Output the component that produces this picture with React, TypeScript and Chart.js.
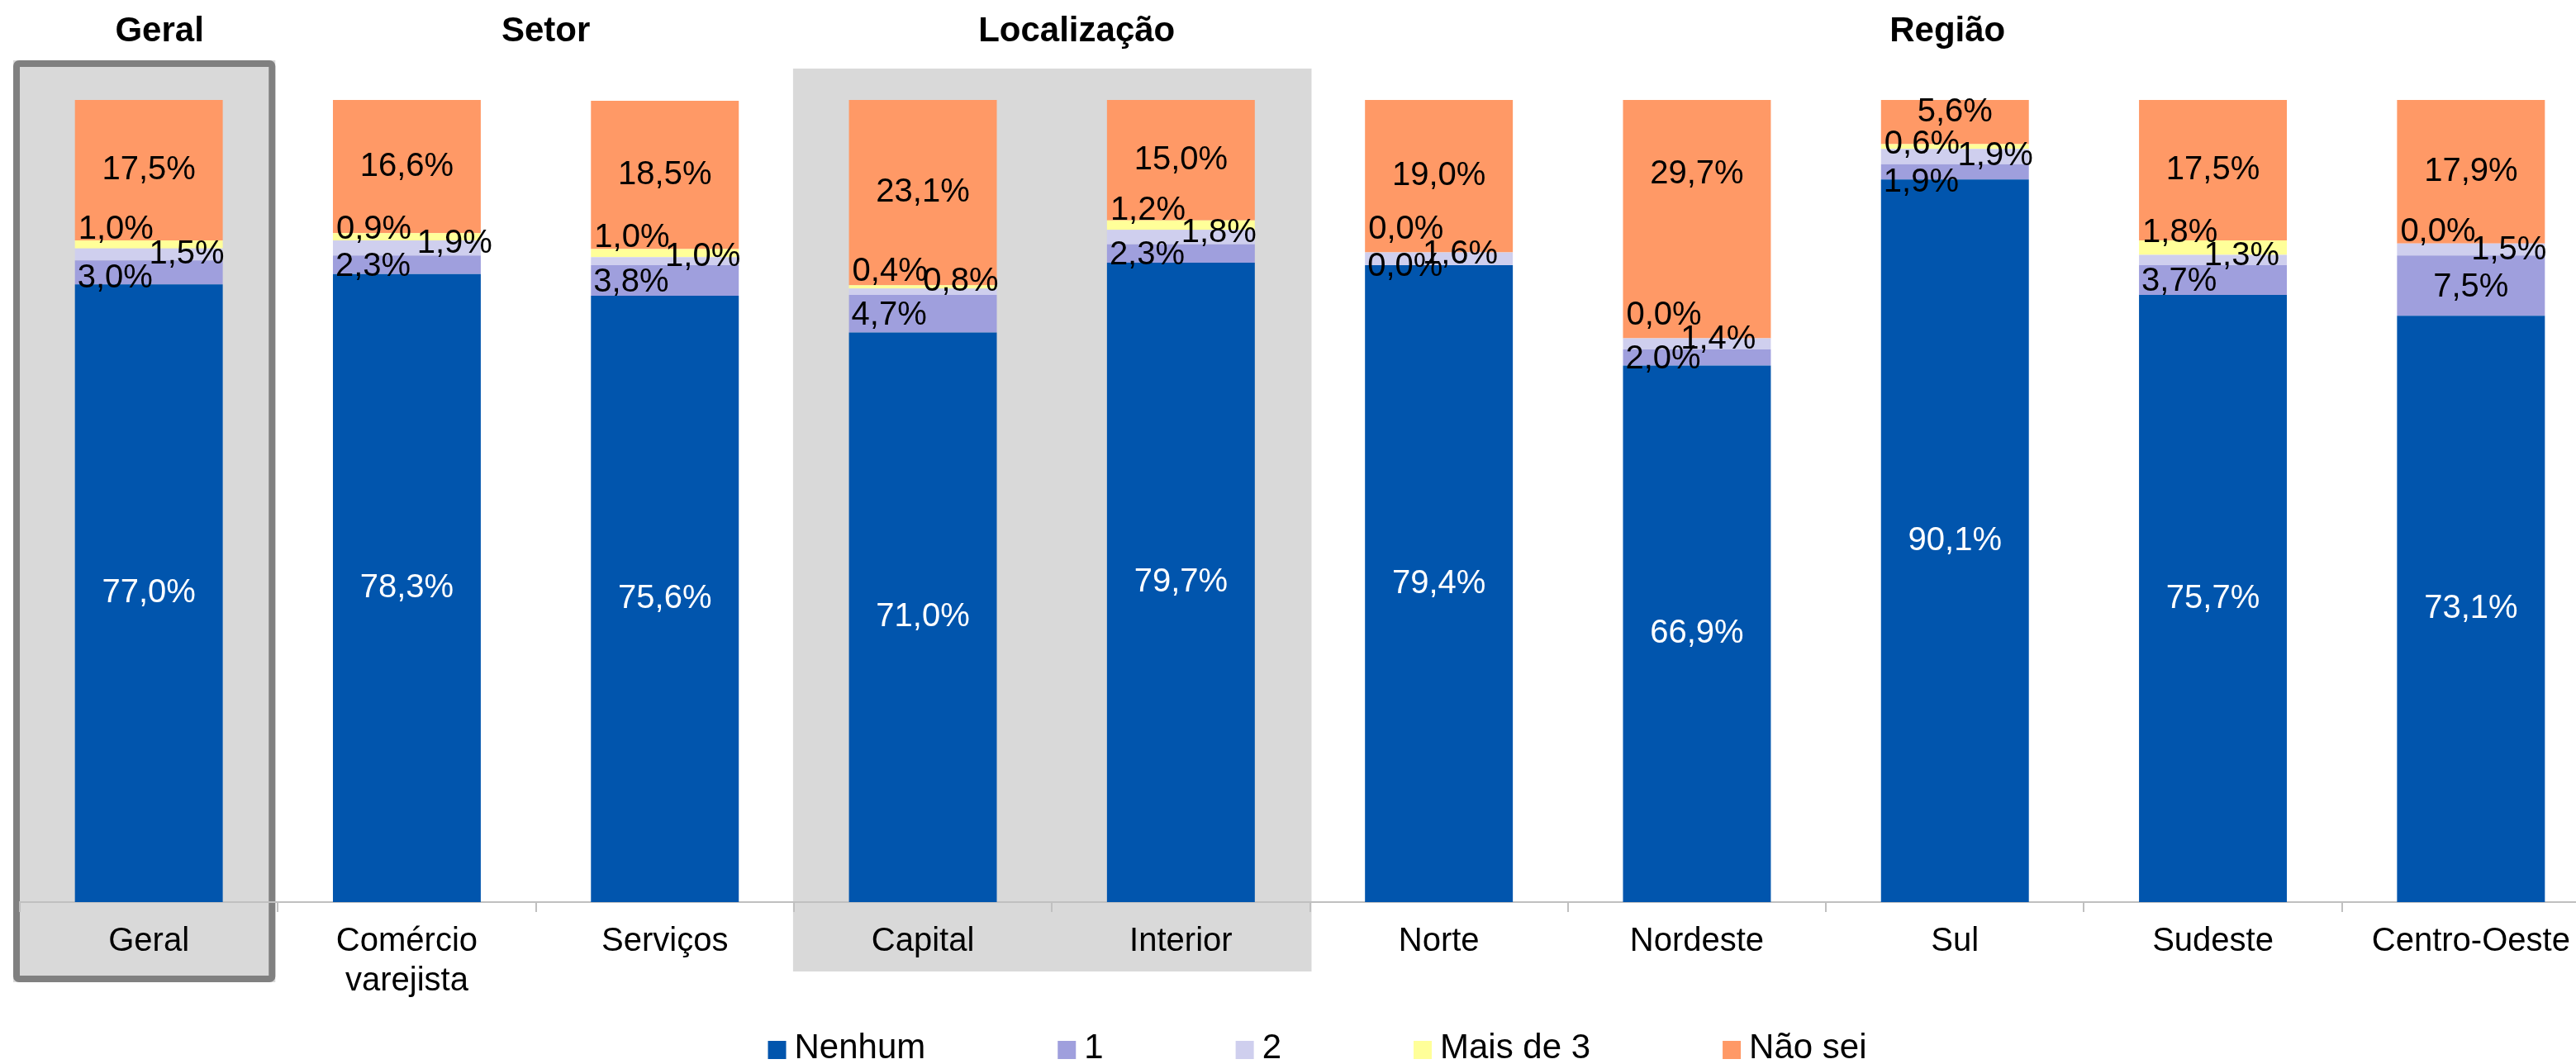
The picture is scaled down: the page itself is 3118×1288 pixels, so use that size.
import React, { useEffect, useRef } from "react";
import { Chart, registerables } from "chart.js";

Chart.register(...registerables);

// ---------- data ----------
const categories = [
  "Geral",
  "Comércio varejista",
  "Serviços",
  "Capital",
  "Interior",
  "Norte",
  "Nordeste",
  "Sul",
  "Sudeste",
  "Centro-Oeste",
];

const seriesNames = ["Nenhum", "1", "2", "Mais de 3", "Não sei"];

const nenhum = [77.0, 78.3, 75.6, 71.0, 79.7, 79.4, 66.9, 90.1, 75.7, 73.1];
const um = [3.0, 2.3, 3.8, 4.7, 2.3, 0.0, 2.0, 1.9, 3.7, 7.5];
const dois = [1.5, 1.9, 1.0, 0.8, 1.8, 1.6, 1.4, 1.9, 1.3, 1.5];
const maisDe3 = [1.0, 0.9, 1.0, 0.4, 1.2, 0.0, 0.0, 0.6, 1.8, 0.0];
const naoSei = [17.5, 16.6, 18.5, 23.1, 15.0, 19.0, 29.7, 5.6, 17.5, 17.9];

const groupTitles = ["Geral", "Setor", "Localização", "Região"];
const groupStart = [0, 1, 3, 5];
const groupEnd = [0, 2, 4, 9];

// ---------- styles ----------
const FONT = "'Liberation Sans', Arial, Helvetica, sans-serif";
const W = 3160;
const H = 1288;
const seriesColors = ["#0155AD", "#9F9FDD", "#CFCFEE", "#FFFF99", "#FF9966"];
const titleDx = [13, 12, 30, -9];

type Rule = { align: "left" | "right" | "center"; dx: number; dy: number; color: string };
const labelRules: Rule[] = [
  { align: "center", dx: 0, dy: 0, color: "#FFFFFF" },
  { align: "left", dx: 3, dy: 2, color: "#000000" },
  { align: "right", dx: 2, dy: -5, color: "#000000" },
  { align: "left", dx: 4, dy: -18, color: "#000000" },
  { align: "center", dx: 0, dy: 0, color: "#000000" },
];
const labelNudges: Record<string, { dx?: number; dy?: number; align?: "left" | "right" | "center" }> = {
  "1:0": { dy: 5 },
  "1:7": { dy: 11 },
  "1:9": { align: "center", dx: 0 },
  "2:0": { dy: 5 },
  "2:1": { dx: 14 },
  "2:3": { dy: -7 },
  "2:5": { dx: -18 },
  "2:6": { dx: -18 },
  "2:7": { dx: 5, dy: 5 },
  "2:8": { dx: -9 },
  "2:9": { dy: 6 },
  "3:1": { dy: 9 },
  "3:5": { dy: -10 },
  "3:6": { dy: -9 },
  "3:7": { dy: 16 },
  "3:9": { dy: 4 },
  "4:6": { dy: -54 },
  "4:7": { dy: -11 },
};

const fmt = (v: number) => v.toFixed(1).replace(".", ",") + "%";

const backdropPlugin = {
  id: "backdrop",
  beforeDraw(chart: any) {
    const { ctx, chartArea, scales } = chart;
    const xs = scales.x;
    const half = (xs.getPixelForValue(1) - xs.getPixelForValue(0)) / 2;
    const top = chartArea.top;
    const bottom = chartArea.bottom;
    ctx.save();
    ctx.fillStyle = "#D9D9D9";
    // Localização band
    const l0 = xs.getPixelForValue(3) - half;
    const l1 = xs.getPixelForValue(4) + half;
    ctx.fillRect(l0 - 1, top - 38, l1 - l0 + 3, bottom + 84 - (top - 38));
    // Geral framed box
    const g0 = xs.getPixelForValue(0) - half - 8;
    const g1 = xs.getPixelForValue(0) + half - 3;
    const gy0 = top - 48;
    const gy1 = bottom + 97;
    ctx.fillRect(g0, gy0, g1 - g0, gy1 - gy0);
    ctx.strokeStyle = "#808080";
    ctx.lineWidth = 8;
    ctx.beginPath();
    if ((ctx as any).roundRect) {
      (ctx as any).roundRect(g0 + 4, gy0 + 4, g1 - g0 - 8, gy1 - gy0 - 8, 3);
    } else {
      ctx.rect(g0 + 4, gy0 + 4, g1 - g0 - 8, gy1 - gy0 - 8);
    }
    ctx.stroke();
    // group titles
    ctx.fillStyle = "#000000";
    ctx.font = `bold 42px ${FONT}`;
    ctx.textAlign = "center";
    ctx.textBaseline = "middle";
    groupTitles.forEach((t, i) => {
      const a = xs.getPixelForValue(groupStart[i]);
      const b = xs.getPixelForValue(groupEnd[i]);
      ctx.fillText(t, (a + b) / 2 + titleDx[i], top - 83);
    });
    ctx.restore();
  },
};

const labelsPlugin = {
  id: "segLabels",
  afterDatasetsDraw(chart: any) {
    const { ctx } = chart;
    ctx.save();
    ctx.font = `40px ${FONT}`;
    ctx.textBaseline = "middle";
    chart.data.datasets.forEach((ds: any, di: number) => {
      const meta = chart.getDatasetMeta(di);
      meta.data.forEach((el: any, i: number) => {
        const v = ds.data[i] as number;
        const p = el.getProps(["x", "y", "base", "width"], true);
        const left = p.x - p.width / 2;
        const right = p.x + p.width / 2;
        const cy = (p.y + p.base) / 2;
        const rule = labelRules[di];
        const n = labelNudges[`${di}:${i}`] || {};
        const align = n.align || rule.align;
        const dx = n.dx !== undefined ? n.dx : rule.dx;
        const dy = rule.dy + (n.dy || 0);
        let x = p.x + dx;
        if (align === "left") x = left + dx;
        else if (align === "right") x = right + dx;
        ctx.textAlign = align;
        ctx.fillStyle = rule.color;
        ctx.fillText(fmt(v), x, cy + dy);
      });
    });
    ctx.restore();
  },
};

const legendPlugin = {
  id: "customLegend",
  afterDraw(chart: any) {
    const { ctx, chartArea } = chart;
    ctx.save();
    ctx.font = `42px ${FONT}`;
    const box = 22;
    const gapText = 10;
    const gapItem = 160;
    const items = chart.data.datasets.map((d: any) => ({
      text: d.label as string,
      color: d.backgroundColor as string,
      w: box + gapText + ctx.measureText(d.label).width,
    }));
    const total =
      items.reduce((a: number, b: any) => a + b.w, 0) + gapItem * (items.length - 1);
    let x = (chartArea.left + chartArea.right) / 2 + 9 - total / 2;
    const y = chartArea.bottom + 179;
    ctx.textAlign = "left";
    ctx.textBaseline = "middle";
    items.forEach((it: any) => {
      ctx.fillStyle = it.color;
      ctx.fillRect(x, y - box / 2, box, box);
      ctx.fillStyle = "#000000";
      ctx.fillText(it.text, x + box + gapText, y - 2);
      x += it.w + gapItem;
    });
    ctx.restore();
  },
};

export default function App() {
  const ref = useRef<HTMLCanvasElement>(null);

  useEffect(() => {
    if (!ref.current) return;
    const seriesValues = [nenhum, um, dois, maisDe3, naoSei];
    const chart = new Chart(ref.current, {
      type: "bar",
      data: {
        labels: categories.map((c) => (c.includes(" ") ? c.split(" ") : c)),
        datasets: seriesValues.map((vals, i) => ({
          label: seriesNames[i],
          data: vals,
          backgroundColor: seriesColors[i],
          borderWidth: 0,
          barPercentage: 0.573,
          categoryPercentage: 1,
        })),
      },
      options: {
        responsive: false,
        animation: false,
        devicePixelRatio: 1,
        events: [],
        layout: { padding: { left: 24, right: W - 3147, top: 121, bottom: 0 } },
        plugins: {
          legend: { display: false },
          tooltip: { enabled: false },
          title: { display: false },
        },
        scales: {
          x: {
            stacked: true,
            offset: true,
            grid: {
              display: true,
              offset: true,
              drawOnChartArea: false,
              drawTicks: true,
              tickLength: 12,
              color: "#C0C0C0",
              lineWidth: 2,
            },
            border: { display: true, color: "#C0C0C0", width: 2 },
            ticks: {
              color: "#000000",
              font: { family: FONT, size: 40, lineHeight: 1.2 },
              padding: 12,
              maxRotation: 0,
              minRotation: 0,
              autoSkip: false,
            },
            afterFit: (s: any) => {
              s.height = 196;
            },
          },
          y: {
            stacked: true,
            display: false,
            min: 0,
            max: 100,
          },
        },
      },
      plugins: [backdropPlugin, labelsPlugin, legendPlugin],
    } as any);
    return () => chart.destroy();
  }, []);

  return (
    <div
      style={{
        position: "fixed",
        left: 0,
        top: 0,
        width: 3118,
        height: 1288,
        overflow: "hidden",
        background: "#FFFFFF",
      }}
    >
      <canvas ref={ref} width={W} height={H} style={{ display: "block", width: W, height: H }} />
    </div>
  );
}
